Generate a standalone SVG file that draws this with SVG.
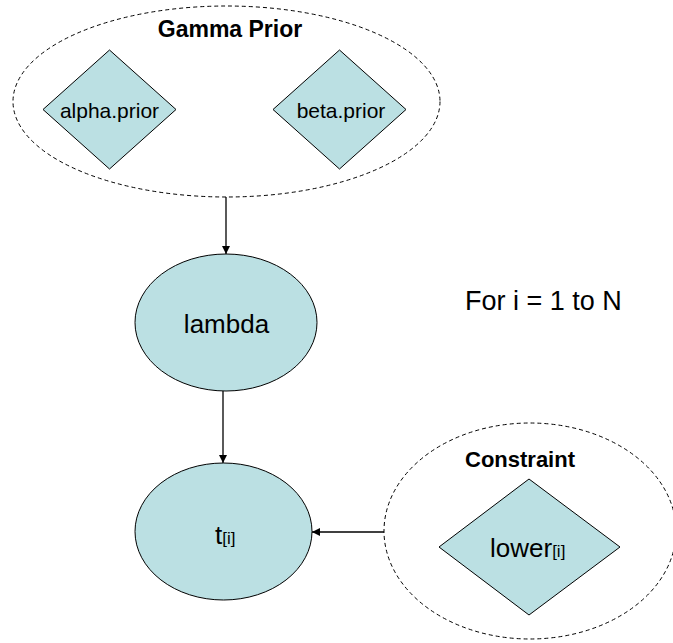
<svg xmlns="http://www.w3.org/2000/svg" width="673" height="643" viewBox="0 0 673 643">
<style>
.plate{fill:none;stroke:#000;stroke-width:1;stroke-dasharray:4,3}
.node{fill:#BBE0E3;stroke:#000;stroke-width:1}
.lbl{font-family:"Liberation Sans",Arial,sans-serif;fill:#000}
.b{font-weight:bold}
.edge{stroke:#000;stroke-width:1.3;fill:none}
</style>
<defs>
<marker id="ah" viewBox="0 0 10 10" refX="10" refY="5" markerWidth="10" markerHeight="8" markerUnits="userSpaceOnUse" orient="auto">
<path d="M0,0 L10,5 L0,10 z" fill="#000"/>
</marker>
</defs>
<rect width="673" height="643" fill="#fff"/>
<g id="gamma-prior">
<ellipse class="plate" cx="226.5" cy="101.5" rx="213.5" ry="95.5"/>
<text class="lbl b" x="230" y="37" font-size="23" text-anchor="middle">Gamma Prior</text>
</g>
<g id="alpha-prior">
<polygon class="node" points="109.5,50 176,109.5 109.5,169 43,109.5"/>
<text class="lbl" x="109.5" y="118" font-size="21" text-anchor="middle">alpha.prior</text>
</g>
<g id="beta-prior">
<polygon class="node" points="339.5,50 406,109.5 339.5,169 273,109.5"/>
<text class="lbl" x="341" y="118" font-size="21" text-anchor="middle">beta.prior</text>
</g>
<g id="lambda">
<ellipse class="node" cx="226" cy="322.5" rx="91" ry="68.5"/>
<text class="lbl" x="226.5" y="333" font-size="26" text-anchor="middle">lambda</text>
</g>
<g id="t">
<ellipse class="node" cx="223.5" cy="531.5" rx="88.5" ry="68.5"/>
<text class="lbl" x="215" y="544" font-size="26">t<tspan font-size="17">[i]</tspan></text>
</g>
<g id="constraint">
<ellipse class="plate" cx="530" cy="531" rx="146" ry="108"/>
<text class="lbl b" x="465" y="467" font-size="22">Constraint</text>
</g>
<g id="lower">
<polygon class="node" points="529,479 620,547 529,615 439,547"/>
<text class="lbl" x="490" y="557" font-size="26">lower<tspan font-size="17">[i]</tspan></text>
</g>
<g id="loop-label">
<text class="lbl" x="465" y="310" font-size="27">For i = 1 to N</text>
</g>
<g id="connectors">
<line class="edge" x1="226" y1="197" x2="226" y2="254" marker-end="url(#ah)"/>
<line class="edge" x1="223" y1="391" x2="223" y2="463" marker-end="url(#ah)"/>
<line class="edge" x1="384" y1="532" x2="312" y2="532" marker-end="url(#ah)"/>
</g>
</svg>
